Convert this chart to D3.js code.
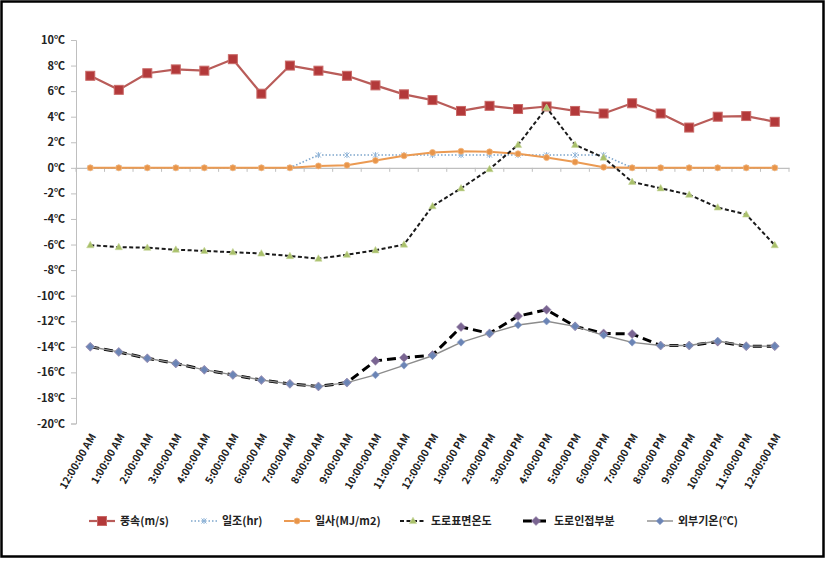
<!DOCTYPE html>
<html><head><meta charset="utf-8">
<script src="https://cdn.jsdelivr.net/npm/d3@7"></script>
<style>body{margin:0;background:#fff} svg{display:block}</style>
</head><body><svg id="c" width="827" height="561"></svg>
<script>
const categories = ["12:00:00 AM","1:00:00 AM","2:00:00 AM","3:00:00 AM","4:00:00 AM","5:00:00 AM","6:00:00 AM","7:00:00 AM","8:00:00 AM","9:00:00 AM","10:00:00 AM","11:00:00 AM","12:00:00 PM","1:00:00 PM","2:00:00 PM","3:00:00 PM","4:00:00 PM","5:00:00 PM","6:00:00 PM","7:00:00 PM","8:00:00 PM","9:00:00 PM","10:00:00 PM","11:00:00 PM","12:00:00 AM"];
const windSpeed = [7.2,6.1,7.4,7.7,7.6,8.5,5.8,8.0,7.6,7.2,6.45,5.75,5.3,4.45,4.85,4.6,4.8,4.45,4.25,5.05,4.25,3.15,4.0,4.05,3.6];
const sunshine = [0,0,0,0,0,0,0,0,1,1,1,1,1,1,1,1,1,1,1,0,0,0,0,0,0];
const radiation = [0,0,0,0,0,0,0,0,0.15,0.2,0.57,0.94,1.2,1.3,1.25,1.1,0.8,0.45,0.05,0,0,0,0,0,0];
const roadSurface = [-6.05,-6.2,-6.25,-6.4,-6.5,-6.6,-6.7,-6.9,-7.1,-6.8,-6.45,-6.0,-3.0,-1.6,-0.1,1.8,4.7,1.8,0.8,-1.1,-1.6,-2.1,-3.1,-3.65,-6.05];
const roadAdjacent = [-14.0,-14.4,-14.9,-15.3,-15.8,-16.2,-16.6,-16.9,-17.1,-16.8,-15.1,-14.85,-14.65,-12.45,-12.95,-11.6,-11.1,-12.4,-12.95,-13.0,-13.9,-13.9,-13.6,-13.95,-13.95];
const outsideTemp = [-14.0,-14.4,-14.9,-15.3,-15.8,-16.2,-16.6,-16.9,-17.1,-16.8,-16.2,-15.45,-14.7,-13.65,-12.95,-12.3,-12.0,-12.4,-13.1,-13.65,-13.9,-13.9,-13.55,-13.95,-13.95];
const yTicks = d3.range(-20, 11, 2);
const seriesNames = ["풍속(m/s)","일조(hr)","일사(MJ/m2)","도로표면온도","도로인접부분","외부기온(℃)"];

const svg = d3.select("#c");
const FONT = "'Noto Sans CJK KR','Noto Sans',sans-serif";
svg.append("rect").attr("x",1.5).attr("y",1.5).attr("width",822).attr("height",555)
  .attr("fill","#fff").attr("stroke","#000").attr("stroke-width",2.5);

const x = d3.scaleBand().domain(d3.range(categories.length)).range([76, 789]);
const cx = i => x(i) + x.bandwidth()/2;
const y = d3.scaleLinear().domain([-20, 10]).range([423.5, 40]);

// Y axis
const ya = svg.append("g").attr("transform","translate(76,0)")
  .call(d3.axisLeft(y).tickValues(yTicks).tickSize(5).tickPadding(6).tickFormat(d => d + "℃"));
ya.select(".domain").attr("stroke","#bfbfbf");
ya.selectAll(".tick line").attr("stroke","#bfbfbf");
ya.selectAll("text").attr("font-family",FONT).attr("font-size",11).attr("font-weight","bold").attr("fill","#222");

// X axis line at 0
const xa = svg.append("g").attr("transform",`translate(0,${y(0)})`)
  .call(d3.axisBottom(x).tickSize(0).tickFormat(""));
xa.select(".domain").attr("stroke","#bfbfbf").attr("stroke-width",1.2);
svg.append("g").selectAll("line").data(d3.range(categories.length + 1)).join("line")
  .attr("x1", i => i < categories.length ? x(i) : x.range()[1])
  .attr("x2", i => i < categories.length ? x(i) : x.range()[1])
  .attr("y1", y(0)).attr("y2", y(0) + 4).attr("stroke","#bfbfbf");

// X labels
svg.append("g").selectAll("text").data(categories).join("text")
  .attr("transform",(d,i) => `translate(${cx(i)+3},${y(-20)+11}) rotate(-60)`)
  .attr("text-anchor","end").attr("dy","0.35em")
  .attr("font-family",FONT).attr("font-size",10.5).attr("font-weight","bold").attr("fill","#222")
  .text(d => d);

const line = d3.line().x((d,i) => cx(i)).y(d => y(d));

// series styles
const styles = [
  {data: windSpeed, stroke:"#b95c59", width:2.2, dash:null, marker:"square"},
  {data: sunshine, stroke:"#7ea6cc", width:1.6, dash:"1.5,2", marker:"star"},
  {data: radiation, stroke:"#eb9a52", width:2, dash:null, marker:"circle"},
  {data: roadSurface, stroke:"#1a1a1a", width:2, dash:"4,2.5", marker:"triangle"},
  {data: roadAdjacent, stroke:"#000", width:3, dash:"9,5", marker:"diamondBig"},
  {data: outsideTemp, stroke:"#8c8c8c", width:1.4, dash:null, marker:"diamondSmall"}
];

function drawMarker(g, type, px, py) {
  if (type === "square") {
    g.append("rect").attr("x",px-4.5).attr("y",py-4.5).attr("width",9).attr("height",9)
      .attr("fill","#b3393a").attr("stroke","#c96a68").attr("stroke-width",1);
  } else if (type === "circle") {
    g.append("circle").attr("cx",px).attr("cy",py).attr("r",3)
      .attr("fill","#e8954a").attr("stroke","#f2b57c").attr("stroke-width",0.8);
  } else if (type === "triangle") {
    g.append("path").attr("d",`M${px},${py-3.8}L${px+3.6},${py+2.6}L${px-3.6},${py+2.6}Z`)
      .attr("fill","#a9c06a").attr("stroke","#c7d69c").attr("stroke-width",0.6);
  } else if (type === "diamondBig") {
    g.append("path").attr("d",`M${px},${py-4.5}L${px+4.5},${py}L${px},${py+4.5}L${px-4.5},${py}Z`)
      .attr("fill","#7a6592").attr("stroke","#9a89ad").attr("stroke-width",0.6);
  } else if (type === "diamondSmall") {
    g.append("path").attr("d",`M${px},${py-3.8}L${px+3.8},${py}L${px},${py+3.8}L${px-3.8},${py}Z`)
      .attr("fill","#6b84b5").attr("stroke","#8ea3c9").attr("stroke-width",0.6);
  } else if (type === "star") {
    g.append("path").attr("d",`M${px-2.5},${py-2.5}L${px+2.5},${py+2.5}M${px-2.5},${py+2.5}L${px+2.5},${py-2.5}M${px},${py-3}L${px},${py+3}`)
      .attr("stroke","#8fb4d8").attr("stroke-width",1).attr("fill","none");
  }
}

styles.forEach(s => {
  const g = svg.append("g");
  g.append("path").datum(s.data).attr("d", line).attr("fill","none")
    .attr("stroke", s.stroke).attr("stroke-width", s.width)
    .attr("stroke-dasharray", s.dash).attr("stroke-linejoin","round");
  s.data.forEach((v,i) => drawMarker(g, s.marker, cx(i), y(v)));
});

// Legend
const legendX = [89, 191, 284, 400, 523, 647];
const lg = svg.append("g").attr("transform","translate(0,521)");
styles.forEach((s,k) => {
  const g = lg.append("g").attr("transform",`translate(${legendX[k]},0)`);
  g.append("line").attr("x1",0).attr("x2",26).attr("y1",0).attr("y2",0)
    .attr("stroke", s.stroke).attr("stroke-width", s.width)
    .attr("stroke-dasharray", s.dash);
  drawMarker(g, s.marker, 13, 0);
  g.append("text").attr("x",31).attr("dy","0.35em")
    .attr("font-family",FONT).attr("font-size",11).attr("font-weight","bold").attr("fill","#222")
    .text(seriesNames[k]);
});
</script></body></html>
